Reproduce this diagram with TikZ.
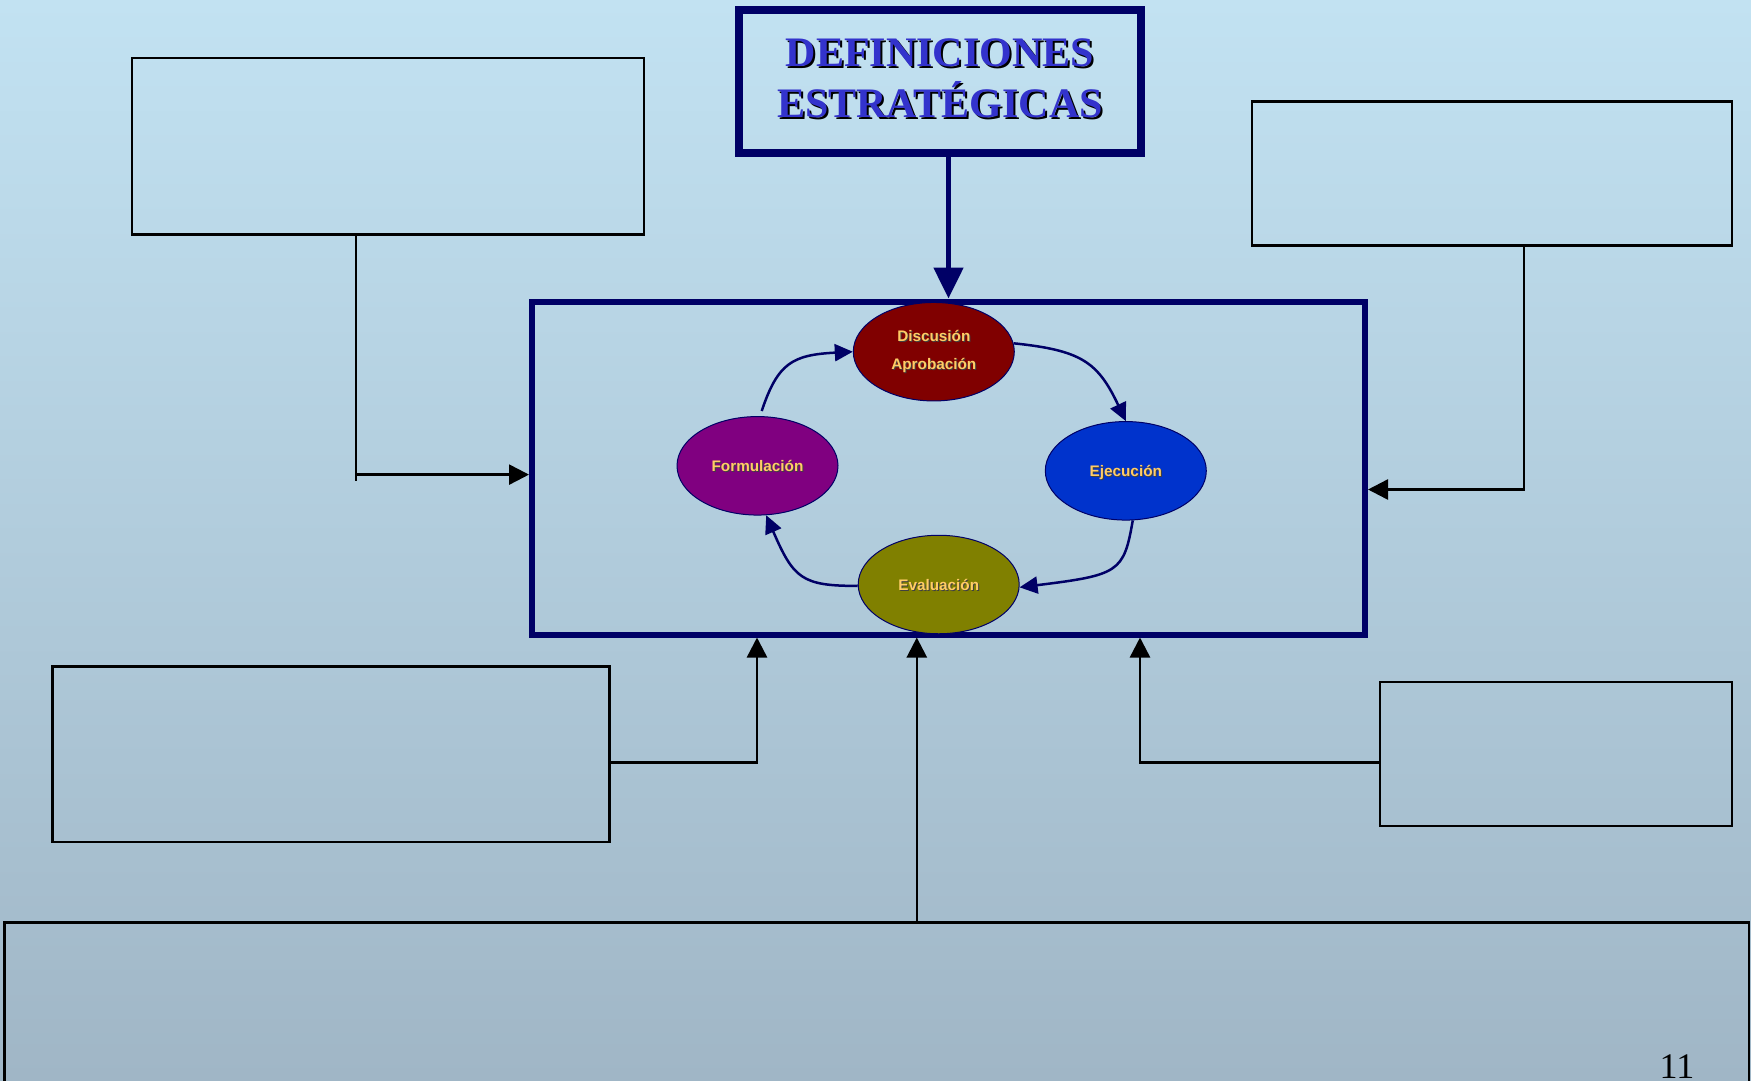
\documentclass[tikz,border=0pt]{standalone}
\usepackage{fontspec}
\setmainfont{Liberation Serif}
\newfontfamily\labelfont{Liberation Sans}
\usetikzlibrary{arrows.meta,shapes.geometric,calc}

\definecolor{bgtop}{RGB}{194,226,242}
\definecolor{bgbot}{RGB}{160,182,198}
\definecolor{navy}{RGB}{0,0,102}
\definecolor{titleblue}{RGB}{51,51,204}
\definecolor{gold}{RGB}{255,204,102}
\definecolor{maroonfill}{RGB}{128,0,0}
\definecolor{purplefill}{RGB}{128,0,128}
\definecolor{bluefill}{RGB}{0,51,204}
\definecolor{olivefill}{RGB}{128,128,0}

% text with a drop shadow: #1 text, #2 offset, #3 shadow colour
\newcommand\castshadow[3]{\leavevmode\rlap{\kern#2\raisebox{-#2}{\color{#3}#1}}#1}

\begin{document}
\begin{tikzpicture}[x=1pt,y=-1pt,
  box/.style={draw=black,line width=2.5pt,inner sep=0pt},
  phase/.style={ellipse,draw=navy,line width=1pt,minimum width=161pt,
    minimum height=98.5pt,inner sep=0pt,text=gold,align=center,
    font=\labelfont\bfseries\fontsize{15.3}{27.7}\selectfont},
  oneline/.style={text height=12pt,text depth=0pt},
  feed/.style={draw=black,line width=2.5pt,-{Triangle[length=20pt,width=20pt]}},
  cyclearrow/.style={draw=navy,line width=2.5pt,-{Triangle[length=18pt,width=17pt]}},
]
\useasboundingbox (0,0) rectangle (1751,1080);
\clip (0,0) rectangle (1751,1080);
\shade[top color=bgtop,bottom color=bgbot] (0,0) rectangle (1751,1080);

% title
\node[draw=navy,line width=8pt,minimum width=402pt,minimum height=143pt,inner sep=0pt]
  (title) at (940,81.5) {};
\node[font=\bfseries\fontsize{42}{51}\selectfont,text=titleblue,align=center,inner sep=0pt]
  (titletext) at ($(title.center)+(0,-2)$)
  {\castshadow{DEFINICIONES}{2pt}{black}\\\castshadow{ESTRATÉGICAS}{2pt}{black}};

% central frame
\node[draw=navy,line width=6pt,minimum width=833pt,minimum height=333pt,inner sep=0pt]
  (main) at (948.5,468) {};

% surrounding empty boxes
\node[box,minimum width=512pt,minimum height=176.5pt] (tl) at (388,146.25) {};
\node[box,minimum width=480pt,minimum height=144.1pt] (tr) at (1492,173.65) {};
\node[box,minimum width=557.2pt,minimum height=175.3pt] (bl) at (331.1,754.35) {};
\node[box,minimum width=352pt,minimum height=144pt] (br) at (1556,754) {};
\node[box,minimum width=1744.5pt,minimum height=300pt] (bottom) at (876.75,1072.7) {};

% phases of the cycle
\node[phase,fill=maroonfill] (disc) at (933.8,351.7)
  {\castshadow{Discusión}{1pt}{black!75}\\\castshadow{Aprobación}{1pt}{black!75}};
\node[phase,oneline,fill=purplefill] (form) at (757.5,465.8) {\castshadow{Formulación}{1pt}{black!75}};
\node[phase,oneline,fill=bluefill] (ejec) at (1125.8,470.8) {\castshadow{Ejecución}{1pt}{black!75}};
\node[phase,oneline,fill=olivefill] (eval) at (938.7,584.5) {\castshadow{Evaluación}{1pt}{black!75}};

% cycle arrows
\draw[cyclearrow] ($(form.north)+(4.2,-5)$) .. controls +(16,-48) and +(-60.5,3.2) .. (disc.west);
\draw[cyclearrow] (disc.6) .. controls +(68,7) and +(-28,-59) .. (ejec.north);
\draw[cyclearrow] (ejec.-82) .. controls +(-9,52) and +(99.5,-12.3) .. (eval.-2);
\draw[cyclearrow] (eval.181) .. controls +(-56,0) and +(27.4,63.3) .. (form.-80);

% title arrow
\draw[navy,line width=5pt,-{Triangle[length=31pt,width=29pt]}]
  (title.south -| main.north) -- (main.north);

% feeding connectors
\coordinate (tlk) at (356,474.6);
\coordinate (trk) at (1524,489.5);
\coordinate (blk) at (757,762.5);
\coordinate (bk) at (916.8,762.5);
\coordinate (brk) at (1140,762.5);
\draw[black,line width=2.5pt] (tl.south -| tlk) -- ([yshift=-6pt]tlk);
\draw[feed] (tlk) -- (main.west |- tlk);
\draw[feed] (tr.south -| trk) |- (main.east |- trk);
\draw[feed] (bl.east |- blk) -| (main.south -| blk);
\draw[feed] (bottom.north -| bk) -- (main.south -| bk);
\draw[feed] (br.west |- brk) -| (main.south -| brk);

% page number
\node[font=\fontsize{36}{40}\selectfont,anchor=base,inner sep=0pt] (pagenum) at (1677,1078) {11};
\end{tikzpicture}
\end{document}
